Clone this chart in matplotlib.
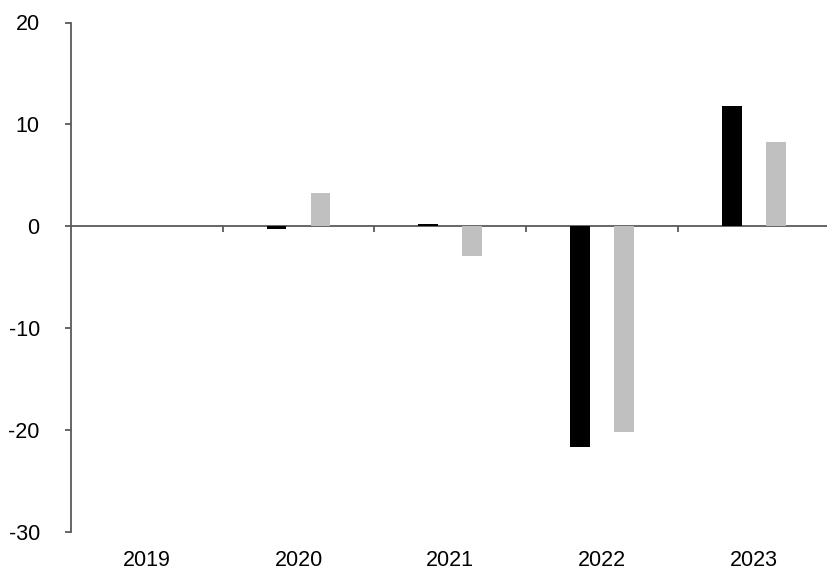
import matplotlib
matplotlib.use("Agg")
import matplotlib.pyplot as plt
import numpy as np

plt.rcParams['font.family'] = ['Liberation Sans', 'DejaVu Sans']

# donnees
annees = ["2019", "2020", "2021", "2022", "2023"]
serie_noire = [0.0, -0.3, 0.2, -21.7, 11.8]
serie_grise = [0.0, 3.3, -2.9, -20.2, 8.3]

gris_axe = "#595959"

fig = plt.figure(figsize=(8.27, 5.70), dpi=100)
ax = fig.add_axes([71 / 827, 38.5 / 570, 758.5 / 827, 509 / 570])

x = np.arange(len(annees))
largeur = 0.13
ecart = 0.145
ax.bar(x - ecart, serie_noire, width=largeur, color="black", zorder=3)
ax.bar(x + ecart, serie_grise, width=largeur, color="#c0c0c0", zorder=3)

ax.set_xlim(-0.5, len(annees) - 0.5)
ax.set_ylim(-30, 20)
ax.set_yticks([-30, -20, -10, 0, 10, 20])
ax.set_yticklabels(["-30", "-20", "-10", "0", "10", "20"])

for cote in ["top", "right", "bottom"]:
    ax.spines[cote].set_visible(False)
ax.spines["left"].set_color(gris_axe)
ax.spines["left"].set_linewidth(1.3)

ax.tick_params(axis="y", direction="out", length=4, width=1.3, color=gris_axe,
               pad=18.5, labelsize=15.5, labelcolor="black")
ax.set_xticks(x)
ax.set_xticklabels(annees)
ax.tick_params(axis="x", length=0, pad=13, labelsize=15.5, labelcolor="black")

# ligne du zero avec les graduations entre categories
ax.axhline(0, color=gris_axe, linewidth=1.3, zorder=2)
sec = ax.secondary_xaxis(0.6)
sec.xaxis.set_ticks_position("bottom")
sec.set_xticks(x[:-1] + 0.5)
sec.tick_params(axis="x", direction="out", length=4, width=1.3, color=gris_axe,
                labelbottom=False, labeltop=False)
for cote in ["top", "bottom"]:
    sec.spines[cote].set_visible(False)

fig.savefig("out.png", dpi=100)
